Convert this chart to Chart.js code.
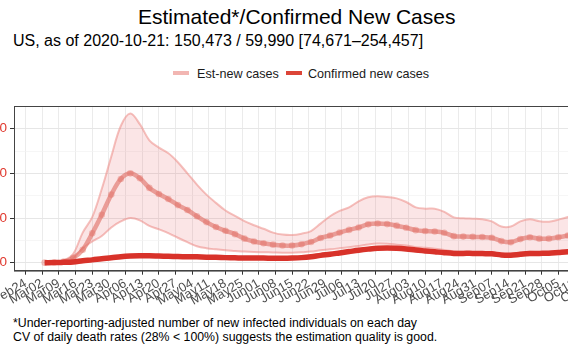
<!DOCTYPE html>
<html>
<head>
<meta charset="utf-8">
<script src="https://cdn.jsdelivr.net/npm/chart.js@4.4.0/dist/chart.umd.min.js"></script>
<style>
  html,body{margin:0;padding:0;background:#fff;}
  body{width:568px;height:352px;overflow:hidden;position:relative;font-family:"Liberation Sans",Arial,sans-serif;color:#000;}
  .txt{position:absolute;white-space:nowrap;line-height:1;}
  #title{left:138px;top:6px;font-size:21px;}
  #sub{left:13px;top:32.5px;font-size:16px;}
  .lg{top:67.6px;font-size:12.6px;color:#1a1a1a;}
  .sw{position:absolute;top:71.3px;width:16px;height:4px;}
  .note{left:13px;font-size:12.3px;}
  #wrap{position:absolute;left:0;top:95px;width:629px;height:215px;}
</style>
</head>
<body>
<div class="txt" id="title">Estimated*/Confirmed New Cases</div>
<div class="txt" id="sub">US, as of 2020-10-21: 150,473 / 59,990 [74,671–254,457]</div>
<div class="sw" style="left:173px;background:#f2b6b2;"></div>
<div class="txt lg" style="left:197px;">Est-new cases</div>
<div class="sw" style="left:286px;background:#dc4538;"></div>
<div class="txt lg" style="left:308px;">Confirmed new cases</div>
<div id="wrap"><canvas id="c" width="629" height="215"></canvas></div>
<div class="txt note" style="top:317px;">*Under-reporting-adjusted number of new infected individuals on each day</div>
<div class="txt note" style="top:331px;">CV of daily death rates (28% &lt; 100%) suggests the estimation quality is good.</div>
<script>
// weekly tick labels, day 0 = Feb 24 2020
const dayLabels = ["Feb24","Mar02","Mar09","Mar16","Mar23","Mar30","Apr06","Apr13","Apr20","Apr27",
  "May04","May11","May18","May25","Jun01","Jun08","Jun15","Jun22","Jun29","Jul06","Jul13","Jul20","Jul27",
  "Aug03","Aug10","Aug17","Aug24","Aug31","Sep07","Sep14","Sep21","Sep28","Oct05","Oct12","Oct19"];
const yTicks = [0,100000,200000,300000,400000,500000,600000];

// sample days (days since Feb 24)
const days = [8,12,16,20,24,28,32,36,40,44,
  48,52,56,60,64,68,72,76,80,84,
  88,92,96,100,104,108,112,116,120,124,
  128,132,136,140,144,148,152,156,160,164,
  168,172,176,180,184,188,192,196,200,204,
  208,212,216,220,224,228,232,236,240];

// values in thousands
const confirmedK = [0.3,0.7,2,3.5,9,13,18,22,27,30,
  31,31,30,29,28,27,26.5,25,24.5,23,
  22,21,21,21,20,20,21,23,27,33,
  38,44,50,56,61,65,66,65,62,57,
  53,49,45,42,42,42,41,40,35,34,
  38,41,42,43,46,49,53,56,60];
const estK = [0.5,1,5,22,58,132,215,305,375,400,
  378,335,308,285,258,236,208,182,160,143,
  128,108,95,87,81,77,77,83,93,111,
  122,135,147,158,172,176,173,166,157,146,
  142,140,134,119,117,116,115,112,97,92,
  106,114,108,108,114,122,132,142,150];
const upperK = [1,2,10,40,135,204,330,475,612,668,
  620,548,515,490,450,400,350,305,268,234,
  210,186,168,152,135,126,124,130,142,175,
  208,232,248,275,293,298,294,288,272,248,
  242,242,228,203,199,197,195,185,162,162,
  185,195,186,184,193,205,222,240,254];
const lowerK = [0.2,0.5,3,20,65,95,120,158,185,200,
  190,165,150,133,112,92,74,65,60,56,
  53,50,48,47,46,45,45,47,50,56,
  60,65,70,75,82,86,85,81,77,70,
  67,63,57,51,49,47,45,43,39,40,
  45,49,48,49,52,56,63,70,75];

const pts = arr => arr.map((v,i)=>({x:days[i], y:v*1000}));

const panelBorder = {
  id:"panelBorder",
  afterDatasetsDraw(chart){
    const a = chart.chartArea, ctx = chart.ctx;
    ctx.save();
    ctx.strokeStyle = "#444";
    ctx.lineWidth = 1;
    ctx.strokeRect(Math.round(a.left)+0.5, Math.round(a.top)+0.5, a.right-a.left, a.bottom-a.top);
    ctx.restore();
  }
};

const isMajor = v => v % 200000 === 0;

new Chart(document.getElementById("c"), {
  type:"line",
  data:{
    datasets:[
      {label:"Confirmed new cases", data:pts(confirmedK), borderColor:"#d8322a", borderWidth:5.5,
       pointRadius:0, tension:0.35, fill:false, order:0},
      {label:"Est-new cases", data:pts(estK), borderColor:"rgba(224,108,98,0.6)", borderWidth:4.5,
       pointRadius:3.3, pointBorderWidth:0, pointBackgroundColor:"rgba(224,108,98,0.4)", tension:0.35, fill:false, order:1},
      {label:"upper", data:pts(upperK), borderColor:"rgba(236,140,135,0.55)", borderWidth:2,
       pointRadius:0, tension:0.35, fill:"+1", backgroundColor:"rgba(230,100,108,0.17)", order:2},
      {label:"lower", data:pts(lowerK), borderColor:"rgba(236,140,135,0.55)", borderWidth:2,
       pointRadius:0, tension:0.35, fill:false, order:3}
    ]
  },
  options:{
    responsive:false,
    animation:false,
    layout:{padding:{top:10,left:0,right:0,bottom:0}},
    plugins:{legend:{display:false}, tooltip:{enabled:false}},
    scales:{
      x:{
        type:"linear", min:-4.9, max:252,
        afterBuildTicks: s => { s.ticks = dayLabels.map((_,i)=>({value:i*7})); },
        afterFit: s => { s.height = 39.3; s.paddingLeft = 0; s.paddingRight = 0; },
        ticks:{autoSkip:false, maxRotation:30, minRotation:30, padding:1, color:"#4d4d4d",
          font:{family:"Liberation Sans", size:13},
          callback: v => dayLabels[Math.round(v/7)]},
        grid:{color:"#ebebeb", lineWidth:1, tickLength:4, tickColor:"#333"},
        border:{display:true, color:"#444", width:1}
      },
      y:{
        type:"linear", min:-35500, max:701000,
        afterBuildTicks: s => { s.ticks = yTicks.map(v=>({value:v})); },
        afterFit: s => { s.width = 14; },
        ticks:{padding:3, color:"#e0382e", font:{family:"Liberation Sans", size:13.5},
          callback: v => isMajor(v) ? String(v) : ""},
        grid:{
          color: c => isMajor(c.tick.value) ? "#e6e6e6" : "#f2f2f2",
          lineWidth: c => isMajor(c.tick.value) ? 1 : 0.7,
          tickLength:4,
          tickColor: c => isMajor(c.tick.value) ? "#333" : "rgba(0,0,0,0)"
        },
        border:{display:true, color:"#444", width:1}
      }
    }
  },
  plugins:[panelBorder]
});
</script>
</body>
</html>
